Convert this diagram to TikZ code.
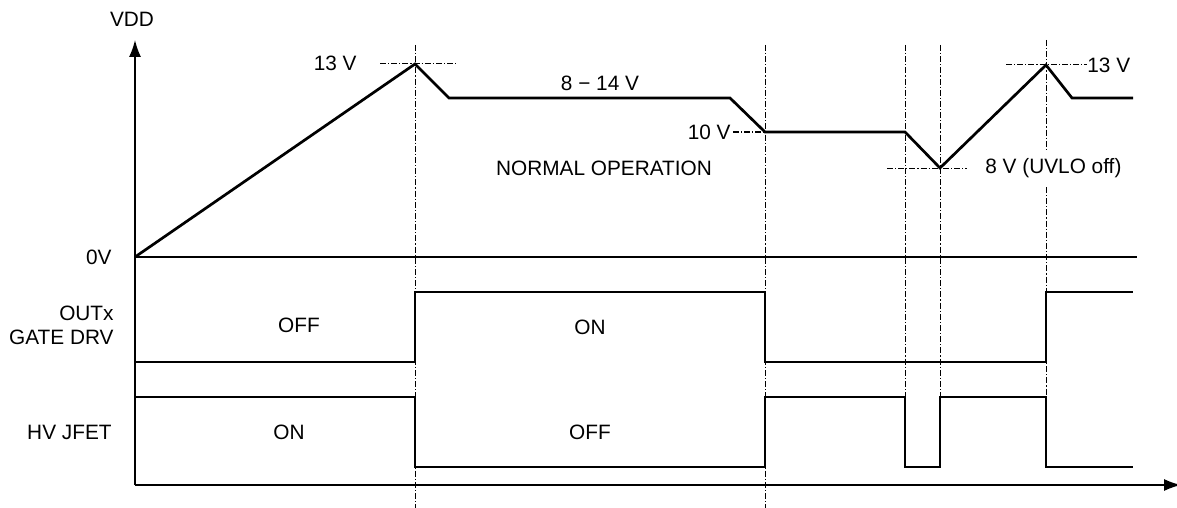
\documentclass[tikz,border=0pt]{standalone}
\usepackage{fontspec}
\setmainfont{Liberation Sans}
\usetikzlibrary{arrows.meta,positioning}

\begin{document}
\begin{tikzpicture}[x=0.5pt, y=-0.5pt, font=\fontsize{10.4}{12}\selectfont]
        \tikzstyle{wave} = [draw, line width=1.35pt, line join=miter]
        \tikzstyle{axis} = [draw, line width=0.75pt]
        \tikzstyle{guide} = [draw, line width=0.5pt, dash pattern=on 3pt off 1pt on 0.6pt off 1pt]
        \tikzstyle{tip} = [-{Latex[length=8.5pt,width=6pt]}]

        \useasboundingbox (0,0) rectangle (1177,508);

        % axes
        \path [axis, tip] (135,485) -- (135,40);
        \path [axis, tip] (135,485) -- (1181,485);
        \path [axis] (135,257) -- (1137,257);

        % guide lines
        \path [guide] (415,45) -- (415,508);
        \path [guide] (765,45) -- (765,508);
        \path [guide] (905,45) -- (905,397);
        \path [guide] (940,45) -- (940,397);
        \path [guide] (1046,40) -- (1046,150);
        \path [guide] (1046,187) -- (1046,397);
        \path [guide] (380,64) -- (458,64);
        \path [guide] (733,132) -- (765,132);
        \path [guide] (887,168) -- (967,168);
        \path [guide] (1006,65) -- (1087,65);

        % VDD
        \path [wave] (135,257) -- (415,64) -- (449,98) -- (730,98) -- (765,132) -- (905,132)
            -- (940,168) -- (1046,65) -- (1072,98) -- (1133,98);
        % OUTx gate drive
        \path [wave] (135,362) -- (415,362) -- (415,292) -- (765,292) -- (765,362)
            -- (1046,362) -- (1046,292) -- (1133,292);
        % HV JFET
        \path [wave] (135,397) -- (415,397) -- (415,467) -- (765,467) -- (765,397)
            -- (905,397) -- (905,467) -- (940,467) -- (940,397) -- (1046,397)
            -- (1046,467) -- (1133,467);

        % labels
        \node (vdd) at (132,19) {VDD};
        \node [anchor=east, inner sep=0pt] (zero) at (112,257) {0V};
        \node [anchor=east, inner sep=0pt] (peak) at (357,63) {13 V};
        \node (range) at (600,83) {8 − 14 V};
        \node [anchor=east, inner sep=0pt] (ten) at (731,132) {10 V};
        \node (normal) at (604,168) {NORMAL OPERATION};
        \node [anchor=west, inner sep=0pt] (uvlo) at (985,168) {8 V (UVLO off)};
        \node [anchor=west, inner sep=0pt] (peak2) at (1087,65) {13 V};
        \node [anchor=east, align=right, inner sep=0pt] (gate) at (114,325) {OUTx\\GATE DRV};
        \node (gateoff) at (299,325) {OFF};
        \node (gateon) at (590,327) {ON};
        \node [anchor=east, inner sep=0pt] (jfet) at (112,432) {HV JFET};
        \node (jfeton) at (289,432) {ON};
        \node (jfetoff) at (590,432) {OFF};
    \end{tikzpicture}
\end{document}
